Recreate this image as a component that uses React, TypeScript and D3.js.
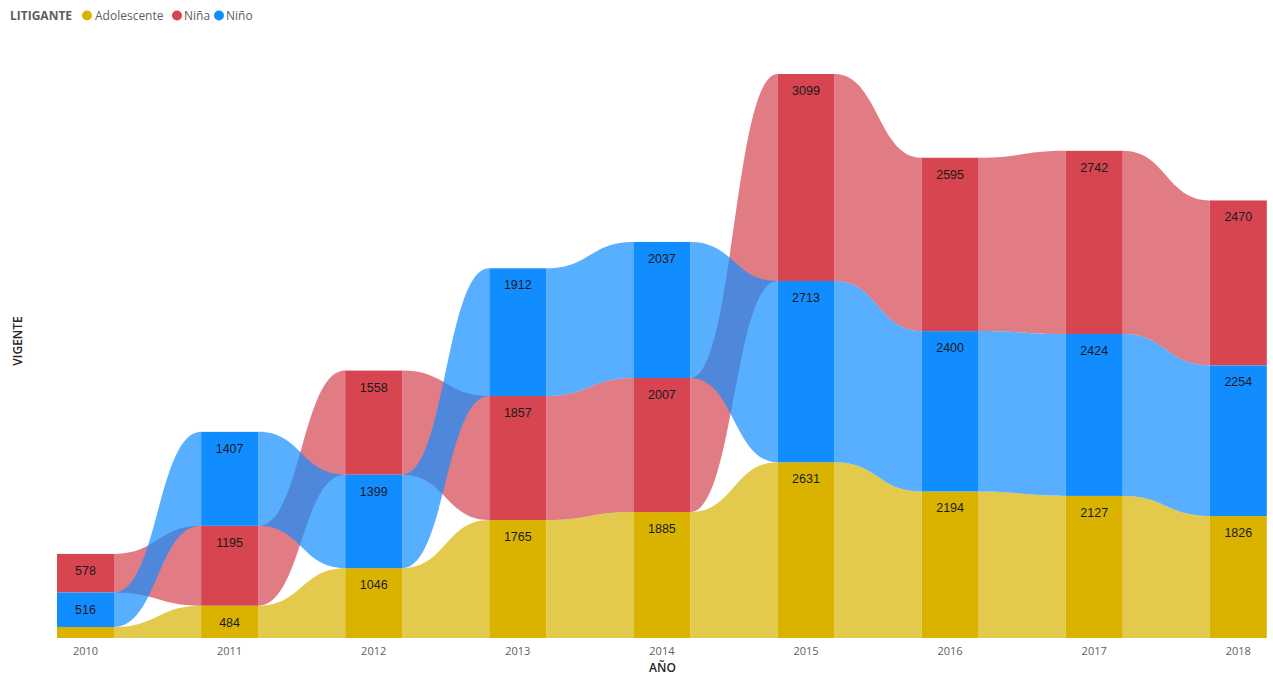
import React from "react";
import * as d3 from "d3";

const years = ["2010", "2011", "2012", "2013", "2014", "2015", "2016", "2017", "2018"];
const seriesNames = ["Adolescente", "Niña", "Niño"];
const adolescente = [165, 484, 1046, 1765, 1885, 2631, 2194, 2127, 1826];
const nina = [578, 1195, 1558, 1857, 2007, 3099, 2595, 2742, 2470];
const nino = [516, 1407, 1399, 1912, 2037, 2713, 2400, 2424, 2254];
const seriesValues = [adolescente, nina, nino];
const colors = ["#D9B300", "#D64550", "#118DFF"];

const W = 1273;
const H = 678;

export default function App() {
  const step = 144.1;
  const bw = 57;
  const x0 = 57;
  const x = d3
    .scaleBand<string>()
    .domain(years)
    .range([x0, x0 + step * (years.length - 1) + bw])
    .paddingInner(1 - bw / step)
    .paddingOuter(0);
  const band = x.bandwidth();

  const totals = years.map((_, i) => d3.sum(seriesValues, (s) => s[i]));
  const y = d3.scaleLinear().domain([0, d3.max(totals) as number]).range([638, 74]);

  // stacking per year: ascending by value, bottom to top
  const stacks: { y0: number; y1: number }[][] = seriesValues.map(() => []);
  years.forEach((_, i) => {
    const order = d3.range(seriesValues.length).sort((a, b) => seriesValues[a][i] - seriesValues[b][i]);
    let cum = 0;
    order.forEach((si) => {
      const v = seriesValues[si][i];
      stacks[si][i] = { y0: cum, y1: cum + v };
      cum += v;
    });
  });

  const ribbonPath = (si: number, i: number) => {
    const xa = (x(years[i]) as number) + band;
    const xb = x(years[i + 1]) as number;
    const m = (xb - xa) / 2;
    const a = stacks[si][i];
    const b = stacks[si][i + 1];
    const ta = y(a.y1), ba = y(a.y0), tb = y(b.y1), bb = y(b.y0);
    const p = d3.path();
    p.moveTo(xa, ta);
    p.bezierCurveTo(xa + m, ta, xb - m, tb, xb, tb);
    p.lineTo(xb, bb);
    p.bezierCurveTo(xb - m, bb, xa + m, ba, xa, ba);
    p.closePath();
    return p.toString();
  };

  const fontUI = "'Open Sans', 'DejaVu Sans', sans-serif";
  const fontLbl = "'Liberation Sans', Arial, sans-serif";

  const legendItems = [
    { name: seriesNames[0], cx: 87, tx: 95 },
    { name: seriesNames[1], cx: 177, tx: 184 },
    { name: seriesNames[2], cx: 219, tx: 226 },
  ];

  return (
    <svg width={W} height={H} style={{ position: "absolute", left: 0, top: 0, background: "#fff" }}>
      {/* legend */}
      <text x={10} y={20} fontFamily={fontUI} fontSize={12} fontWeight={700} fill="#605E5C">
        LITIGANTE
      </text>
      {legendItems.map((it, k) => (
        <g key={it.name}>
          <circle cx={it.cx} cy={15.5} r={5} fill={colors[k]} />
          <text x={it.tx} y={20} fontFamily={fontUI} fontSize={12} fill="#605E5C">
            {it.name}
          </text>
        </g>
      ))}

      {/* ribbons */}
      {seriesValues.map((_, si) =>
        years.slice(0, -1).map((_, i) => (
          <path key={`r${si}-${i}`} d={ribbonPath(si, i)} fill={colors[si]} fillOpacity={0.7} />
        ))
      )}

      {/* bars */}
      {seriesValues.map((_, si) =>
        years.map((yr, i) => (
          <rect
            key={`b${si}-${i}`}
            x={x(yr) as number}
            y={y(stacks[si][i].y1)}
            width={band}
            height={y(stacks[si][i].y0) - y(stacks[si][i].y1)}
            fill={colors[si]}
          />
        ))
      )}

      {/* labels */}
      {seriesValues.map((vals, si) =>
        years.map((yr, i) => {
          const h = y(stacks[si][i].y0) - y(stacks[si][i].y1);
          if (h < 20) return null;
          return (
            <text
              key={`l${si}-${i}`}
              x={(x(yr) as number) + band / 2}
              y={y(stacks[si][i].y1) + 21}
              textAnchor="middle"
              fontFamily={fontLbl}
              fontSize={12.5}
              fill="#1a1a1a"
            >
              {vals[i]}
            </text>
          );
        })
      )}

      {/* x axis */}
      {years.map((yr) => (
        <text
          key={`t${yr}`}
          x={(x(yr) as number) + band / 2}
          y={655}
          textAnchor="middle"
          fontFamily={fontUI}
          fontSize={11}
          fill="#605E5C"
        >
          {yr}
        </text>
      ))}
      <text x={662.5} y={672} textAnchor="middle" fontFamily={fontUI} fontSize={12} fontWeight={600} fill="#252423">
        AÑO
      </text>

      {/* y axis title */}
      <text
        transform="translate(22,341) rotate(-90)"
        textAnchor="middle"
        fontFamily={fontUI}
        fontSize={12}
        fontWeight={600}
        fill="#252423"
      >
        VIGENTE
      </text>
    </svg>
  );
}
